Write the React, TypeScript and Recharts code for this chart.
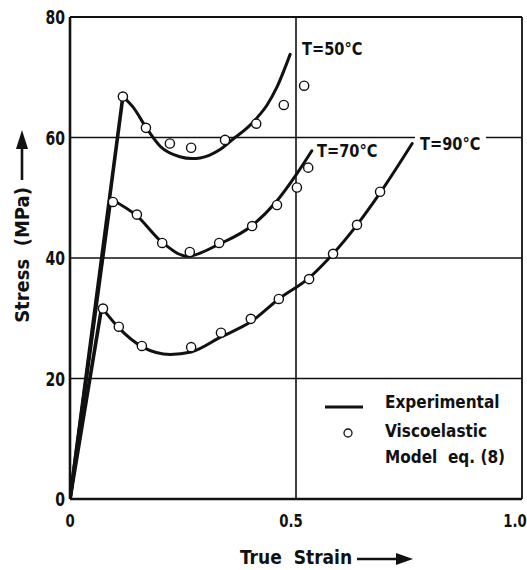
import React from 'react';
import { ComposedChart, Line, Scatter, XAxis, YAxis, ReferenceLine } from 'recharts';

// ---- data ----
const xTicks = [0, 0.5, 1.0];
const xTickLabels = ['0', '0.5', '1.0'];
const yTicks = [0, 20, 40, 60, 80];
const gridStress = [20, 40, 60];
const gridStrain = [0.5];

// Experimental curves (after the elastic rise from the origin to the first point)
const exp50Strain = [0.117, 0.14, 0.168, 0.2, 0.243, 0.27, 0.288, 0.332, 0.365, 0.392, 0.414, 0.436, 0.458, 0.487];
const exp50Stress = [66.8, 65.0, 61.7, 58.5, 56.8, 56.5, 56.6, 58.0, 60.0, 61.6, 63.3, 65.4, 68.4, 73.8];

const exp70Strain = [0.09, 0.148, 0.204, 0.26, 0.33, 0.403, 0.458, 0.502, 0.535];
const exp70Stress = [49.8, 47.0, 42.6, 40.3, 42.3, 45.4, 49.5, 54.0, 57.8];

const exp90Strain = [0.07, 0.108, 0.159, 0.222, 0.268, 0.334, 0.4, 0.462, 0.529, 0.582, 0.635, 0.686, 0.757];
const exp90Stress = [31.8, 28.4, 25.3, 24.0, 24.4, 26.9, 29.4, 33.2, 36.7, 40.7, 45.5, 50.8, 59.0];

// Viscoelastic model eq. (8)
const mod50Strain = [0.117, 0.168, 0.221, 0.268, 0.343, 0.412, 0.473, 0.518];
const mod50Stress = [66.8, 61.6, 59.0, 58.3, 59.6, 62.3, 65.4, 68.6];

const mod70Strain = [0.095, 0.148, 0.204, 0.265, 0.33, 0.403, 0.458, 0.502, 0.527];
const mod70Stress = [49.3, 47.2, 42.5, 41.0, 42.5, 45.3, 48.8, 51.7, 55.0];

const mod90Strain = [0.073, 0.108, 0.159, 0.268, 0.334, 0.4, 0.462, 0.529, 0.582, 0.635, 0.686];
const mod90Stress = [31.6, 28.6, 25.4, 25.2, 27.6, 29.9, 33.2, 36.5, 40.7, 45.5, 51.0];

const seriesLabels = ['T=50°C', 'T=70°C', 'T=90°C'];

const toPoints = (xs: number[], ys: number[]) => xs.map((x, i) => ({ x, y: ys[i] }));
const risePoints = (xs: number[], ys: number[]) => [{ x: 0, y: 0 }, { x: xs[0], y: ys[0] }];

const curves = [
  { strain: exp50Strain, stress: exp50Stress },
  { strain: exp70Strain, stress: exp70Stress },
  { strain: exp90Strain, stress: exp90Stress },
];
const models = [
  toPoints(mod50Strain, mod50Stress),
  toPoints(mod70Strain, mod70Stress),
  toPoints(mod90Strain, mod90Stress),
];

// ---- styles ----
const W = 527;
const H = 570;
const FONT = "'DejaVu Sans Condensed', 'DejaVu Sans', sans-serif";
const INK = '#111';

const xTickDx = [0, -5, -7];

const XTick = (props: any) => {
  const { x, y, payload } = props;
  const i = xTicks.indexOf(payload.value);
  return (
    <text transform={`translate(${x + (xTickDx[i] ?? 0)} ${y}) scale(0.82 1)`} x={0} y={0} dy="0.75em"
      textAnchor="middle" fontFamily={FONT} fontWeight="bold" fontSize={18} fill={INK}>
      {xTickLabels[i] ?? String(payload.value)}
    </text>
  );
};

const YTick = (props: any) => {
  const { x, y, payload } = props;
  return (
    <text transform={`translate(${x} ${y}) scale(0.78 1)`} x={0} y={0} dy="0.36em" textAnchor="end"
      fontFamily={FONT} fontWeight="bold" fontSize={20} fill={INK}>
      {payload.value}
    </text>
  );
};

const OpenCircle = (props: any) => {
  const { cx, cy } = props;
  if (cx == null || cy == null) return null;
  return <circle cx={cx} cy={cy} r={4.6} fill="#fff" stroke={INK} strokeWidth={1.4} />;
};

const labelStyle = { whiteSpace: 'pre' as const };

export default function App() {
  return (
    <div style={{ position: 'absolute', left: 0, top: 0, width: W, height: H, background: '#fff' }}>
      <ComposedChart width={W} height={H} margin={{ top: 17, right: 5, left: 0, bottom: 0 }}>
        <XAxis dataKey="x" type="number" domain={[0, 1]} ticks={xTicks} allowDataOverflow
          axisLine={{ stroke: INK, strokeWidth: 2.6 }} tickLine={false} tickSize={0} tickMargin={14}
          height={71} tick={<XTick />} interval={0} />
        <YAxis dataKey="y" type="number" domain={[0, 80]} ticks={yTicks} allowDataOverflow
          axisLine={{ stroke: INK, strokeWidth: 2.6 }} tickLine={false} tickSize={0} tickMargin={5}
          width={70} tick={<YTick />} interval={0} />
        {gridStress.map((v) => (
          <ReferenceLine key={'h' + v} y={v} stroke={INK} strokeWidth={1.6} />
        ))}
        {gridStrain.map((v) => (
          <ReferenceLine key={'v' + v} x={v} stroke={INK} strokeWidth={1.6} />
        ))}
        <ReferenceLine y={80} stroke={INK} strokeWidth={1.8} />
        <ReferenceLine x={1} stroke={INK} strokeWidth={1.8} />
        {curves.map((c, i) => (
          <Line key={'r' + i} data={risePoints(c.strain, c.stress)} dataKey="y" type="linear"
            stroke={INK} strokeWidth={3.6} dot={false} activeDot={false} isAnimationActive={false} />
        ))}
        {curves.map((c, i) => (
          <Line key={'c' + i} data={toPoints(c.strain, c.stress)} dataKey="y" type="monotone"
            stroke={INK} strokeWidth={3} strokeLinecap="round" dot={false} activeDot={false}
            isAnimationActive={false} />
        ))}
        {models.map((m, i) => (
          <Scatter key={'m' + i} data={m} dataKey="y" shape={<OpenCircle />} isAnimationActive={false} />
        ))}
      </ComposedChart>
      <svg width={W} height={H} style={{ position: 'absolute', left: 0, top: 0, pointerEvents: 'none' }}>
        {/* curve labels */}
        <text transform="translate(302 55) scale(0.9 1)" fontFamily={FONT} fontWeight="bold" fontSize={18} fill={INK}>{seriesLabels[0]}</text>
        <text transform="translate(317 157) scale(0.9 1)" fontFamily={FONT} fontWeight="bold" fontSize={18} fill={INK}>{seriesLabels[1]}</text>
        <rect x={415} y={130} width={71} height={16} fill="#fff" />
        <text transform="translate(420 150) scale(0.9 1)" fontFamily={FONT} fontWeight="bold" fontSize={18} fill={INK}>{seriesLabels[2]}</text>

        {/* legend */}
        <line x1={325} y1={407} x2={363} y2={407} stroke={INK} strokeWidth={3} />
        <text x={385} y={408} fontFamily={FONT} fontWeight="bold" fontSize={17} fill={INK}>Experimental</text>
        <circle cx={348} cy={433} r={4} fill="#fff" stroke={INK} strokeWidth={1.3} />
        <text x={385} y={437} fontFamily={FONT} fontWeight="bold" fontSize={17} fill={INK}>Viscoelastic</text>
        <text x={385} y={463} fontFamily={FONT} fontWeight="bold" fontSize={17} fill={INK} style={labelStyle}>Model  eq. (8)</text>

        {/* y-axis title */}
        <text transform="translate(29,255) rotate(-90)" textAnchor="middle" fontFamily={FONT}
          fontWeight="bold" fontSize={20} fill={INK} style={labelStyle}>Stress  (MPa)</text>
        <line x1={22} y1={146} x2={22} y2={180} stroke={INK} strokeWidth={2.6} />
        <polygon points="22,130 16,149 28,149" fill={INK} />

        {/* x-axis title */}
        <text x={240} y={564} fontFamily={FONT} fontWeight="bold" fontSize={19} fill={INK} style={labelStyle}>True  Strain</text>
        <line x1={357} y1={559} x2={399} y2={559} stroke={INK} strokeWidth={2.6} />
        <polygon points="413,559 396,553 396,565" fill={INK} />
      </svg>
    </div>
  );
}
